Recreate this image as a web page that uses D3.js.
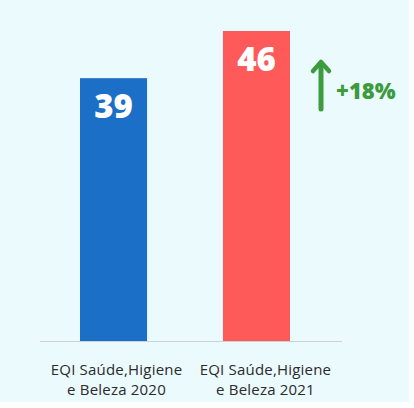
<!DOCTYPE html>
<html>
<head>
<meta charset="utf-8">
<script src="https://cdn.jsdelivr.net/npm/d3@7"></script>
<style>
  html, body { margin: 0; padding: 0; background: #ffffff; }
  svg { display: block; }
</style>
</head>
<body>
<div id="chart"></div>
<script>
// Chart data
const categories = ['EQI Saúde,Higiene|e Beleza 2020', 'EQI Saúde,Higiene|e Beleza 2021'];
const values = [39, 46];
const barColors = ['#1b6fc6', '#ff5a5a'];
const growthLabel = '+18%';

const width = 414;
const height = 408;

const svg = d3.select('#chart')
    .append('svg')
    .attr('width', width)
    .attr('height', height);

// Light panel behind the chart
svg.append('rect')
    .attr('x', 0)
    .attr('y', 0)
    .attr('width', 409)
    .attr('height', 402)
    .attr('fill', '#eafafd');

const baseY = 341;

// Scales
const xScale = d3.scaleBand()
    .domain(categories)
    .range([80, 290])
    .paddingInner(0.531)
    .paddingOuter(0);

const yScale = d3.scaleLinear()
    .domain([0, d3.max(values)])
    .range([baseY, 31]);

const data = categories.map((c, i) => ({ cat: c, value: values[i], color: barColors[i] }));

// Bars
svg.selectAll('.bar')
    .data(data)
    .enter()
    .append('rect')
    .attr('class', 'bar')
    .attr('x', d => xScale(d.cat))
    .attr('y', d => yScale(d.value))
    .attr('width', xScale.bandwidth())
    .attr('height', d => baseY - yScale(d.value))
    .attr('fill', d => d.color);

// Baseline
svg.append('line')
    .attr('x1', 40)
    .attr('x2', 342)
    .attr('y1', baseY + 0.5)
    .attr('y2', baseY + 0.5)
    .attr('stroke', '#c9d3d6')
    .attr('stroke-width', 1);

// Value labels inside bars
svg.selectAll('.value-label')
    .data(data)
    .enter()
    .append('text')
    .attr('class', 'value-label')
    .attr('x', d => xScale(d.cat) + xScale.bandwidth() / 2)
    .attr('y', d => yScale(d.value) + 40)
    .attr('text-anchor', 'middle')
    .style('font-family', '"Open Sans", sans-serif')
    .style('font-weight', 800)
    .style('font-size', '33px')
    .style('fill', '#ffffff')
    .text(d => d.value);

// Category labels (two lines)
const labelShift = [3, 9];
const catLabels = svg.selectAll('.cat-label')
    .data(data)
    .enter()
    .append('text')
    .attr('class', 'cat-label')
    .attr('text-anchor', 'middle')
    .style('font-family', '"Open Sans", sans-serif')
    .style('font-size', '15px')
    .style('letter-spacing', '0.2px')
    .style('fill', '#2b2b2b');

catLabels.each(function(d, i) {
    const cx = xScale(d.cat) + xScale.bandwidth() / 2 + labelShift[i];
    d3.select(this).selectAll('tspan')
        .data(d.cat.split('|'))
        .enter()
        .append('tspan')
        .attr('x', cx)
        .attr('y', (t, j) => 375 + j * 20)
        .text(t => t);
});

// Growth arrow and label
const green = '#3c9b3c';
const arrow = svg.append('g');
arrow.append('line')
    .attr('x1', 321)
    .attr('x2', 321)
    .attr('y1', 109)
    .attr('y2', 63)
    .attr('stroke', green)
    .attr('stroke-width', 5)
    .attr('stroke-linecap', 'round');
arrow.append('path')
    .attr('d', 'M313,71 L321,62 L329,71')
    .attr('fill', 'none')
    .attr('stroke', green)
    .attr('stroke-width', 4.5)
    .attr('stroke-linecap', 'round')
    .attr('stroke-linejoin', 'round');

svg.append('text')
    .attr('x', 336)
    .attr('y', 99)
    .style('font-family', '"Open Sans", sans-serif')
    .style('font-weight', 800)
    .style('font-size', '22px')
    .style('fill', green)
    .text(growthLabel);
</script>
</body>
</html>
